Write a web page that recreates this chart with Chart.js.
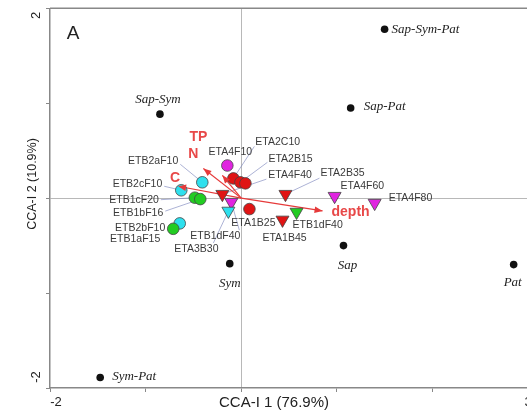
<!DOCTYPE html>
<html>
<head>
<meta charset="utf-8">
<script src="https://cdn.jsdelivr.net/npm/chart.js@4.4.1/dist/chart.umd.min.js"></script>
<style>
  html, body { margin: 0; padding: 0; background: #fff; overflow: hidden; width: 527px; height: 414px; }
  canvas { display: block; }
</style>
</head>
<body>
<canvas id="c" width="540" height="414"></canvas>
<script>
// species groups (black dots)
const speciesNames = ['Sap-Sym-Pat', 'Sap-Sym', 'Sap-Pat', 'Sap', 'Sym', 'Pat', 'Sym-Pat'];
const speciesX = [1.50, -0.85, 1.145, 1.07, -0.12, 2.85, -1.475];
const speciesY = [1.78, 0.885, 0.95, -0.50, -0.69, -0.70, -1.89];

// samples
const sampleNames = ['ETA4F10', 'ETA2C10', 'ETA2B15', '', 'ETA1B25', 'ETA4F40', 'ETB1dF40', 'ETA3B30',
  'ETA2B35', 'ETA4F60', 'ETA4F80', 'ETB1dF40', 'ETA1B45', 'ETB2aF10', 'ETB2cF10', 'ETB1cF20',
  'ETB1bF16', 'ETB2bF10', 'ETB1aF15'];
const sampleX = [-0.145, -0.082, -0.008, 0.044, 0.086, -0.197, -0.103, -0.134,
  0.463, 0.977, 1.396, 0.579, 0.432, -0.407, -0.627, -0.485,
  -0.428, -0.643, -0.711];
const sampleY = [0.344, 0.208, 0.167, 0.156, -0.115, 0.042, -0.042, -0.135,
  0.042, 0.021, -0.052, -0.146, -0.229, 0.167, 0.083, 0.005,
  -0.010, -0.266, -0.323];
const sampleGroup = ['magenta', 'red', 'red', 'red', 'red', 'red', 'magenta', 'cyan',
  'red', 'magenta', 'magenta', 'green', 'red', 'cyan', 'cyan', 'green',
  'green', 'cyan', 'green'];
const sampleShape = ['circle', 'circle', 'circle', 'circle', 'circle', 'triangle', 'triangle', 'triangle',
  'triangle', 'triangle', 'triangle', 'triangle', 'triangle', 'circle', 'circle', 'circle',
  'circle', 'circle', 'circle'];

// environmental vectors
const envNames = ['TP', 'N', 'C', 'depth'];
const envX = [-0.396, -0.197, -0.66, 0.851];
const envY = [0.3125, 0.24, 0.125, -0.135];

// axis tick labels
const xTickLabels = ['-2', '3'];
const yTickLabels = ['2', '-2'];

// ---- layout / style (pixel offsets of labels) ----
const groupColor = { red: '#e01414', magenta: '#e024e0', cyan: '#2ee0ee', green: '#22cc22' };
// [dx, dy, align, leader start offset or null]
const sampleLabelPos = [
  [3, -13, 'center', null],
  [22, -36, 'left', [21, -32]],
  [28, -23, 'left', [27, -20]],
  null,
  [4, 14, 'center', null],
  [46, -19, 'left', [44, -15]],
  [-16, 34, 'center', [8, 28]],
  [-32, 38, 'center', [-15, 32]],
  [35, -21, 'left', [34, -16]],
  [6, -10, 'left', null],
  [14, -5, 'left', null],
  [-4, 13, 'left', null],
  [2, 18, 'center', null],
  [-24, -21, 'right', [-22, -18]],
  [-19, -6, 'right', [-17, -4]],
  [-36, 2.5, 'right', [-34, 2]],
  [-37, 14, 'right', [-35, 12]],
  [-14.5, 4.5, 'right', null],
  [-13, 10, 'right', null]
];
const speciesLabelPos = [
  [7, 0, 'left'], [-2, -15, 'center'], [13, -1, 'left'], [4, 20, 'center'],
  [0, 20, 'center'], [-1, 18, 'center'], [12, -1, 'left']
];
const envLabelPos = [[-5, -31], [-29, -21], [-3, -8], [28, 1]];

const RED = '#e63a3a';

const overlay = {
  id: 'overlay',
  beforeDatasetsDraw(chart) {
    const ctx = chart.ctx;
    const meta = chart.getDatasetMeta(1);
    ctx.save();
    ctx.strokeStyle = 'rgba(115,125,185,0.75)';
    ctx.lineWidth = 0.8;
    sampleLabelPos.forEach((lp, i) => {
      if (!lp || !lp[3]) return;
      const p = meta.data[i];
      ctx.beginPath();
      ctx.moveTo(p.x + lp[3][0], p.y + lp[3][1]);
      ctx.lineTo(p.x, p.y);
      ctx.stroke();
    });
    ctx.restore();
  },
  afterDatasetsDraw(chart) {
    const ctx = chart.ctx, a = chart.chartArea;
    const xs = chart.scales.x, ys = chart.scales.y;
    ctx.save();

    // top frame line
    ctx.strokeStyle = '#888';
    ctx.lineWidth = 1.5;
    ctx.beginPath();
    ctx.moveTo(a.left, a.top);
    ctx.lineTo(a.right + 20, a.top);
    ctx.stroke();

    // arrowheads
    envNames.forEach((n, i) => {
      const m = chart.getDatasetMeta(2 + i);
      const p0 = m.data[0], p1 = m.data[1];
      const ang = Math.atan2(p1.y - p0.y, p1.x - p0.x);
      const L = 8, W = 3.2;
      ctx.fillStyle = RED;
      ctx.beginPath();
      ctx.moveTo(p1.x, p1.y);
      ctx.lineTo(p1.x - L * Math.cos(ang) + W * Math.sin(ang), p1.y - L * Math.sin(ang) - W * Math.cos(ang));
      ctx.lineTo(p1.x - L * Math.cos(ang) - W * Math.sin(ang), p1.y - L * Math.sin(ang) + W * Math.cos(ang));
      ctx.closePath();
      ctx.fill();
      ctx.font = 'bold 14px "Liberation Sans", Arial, sans-serif';
      ctx.textAlign = 'center';
      ctx.textBaseline = 'middle';
      ctx.fillStyle = '#e84848';
      ctx.fillText(n, p1.x + envLabelPos[i][0], p1.y + envLabelPos[i][1]);
    });

    // sample labels
    const sm = chart.getDatasetMeta(1);
    ctx.font = '10.5px "Liberation Sans", Arial, sans-serif';
    ctx.fillStyle = '#3a3a3a';
    ctx.textBaseline = 'middle';
    sampleNames.forEach((n, i) => {
      const lp = sampleLabelPos[i];
      if (!lp || !n) return;
      const p = sm.data[i];
      ctx.textAlign = lp[2];
      ctx.fillText(n, p.x + lp[0], p.y + lp[1]);
    });

    // species labels
    const spm = chart.getDatasetMeta(0);
    ctx.font = 'italic 13px "Liberation Serif", "Times New Roman", serif';
    ctx.fillStyle = '#222';
    speciesNames.forEach((n, i) => {
      const p = spm.data[i], lp = speciesLabelPos[i];
      ctx.textAlign = lp[2];
      ctx.fillText(n, p.x + lp[0], p.y + lp[1]);
    });

    // panel letter
    ctx.font = '19px "Liberation Sans", Arial, sans-serif';
    ctx.fillStyle = '#222';
    ctx.textAlign = 'center';
    ctx.fillText('A', 73, 34);

    // tick labels
    ctx.font = '13px "Liberation Sans", Arial, sans-serif';
    ctx.fillText(xTickLabels[0], xs.getPixelForValue(-2) + 6, a.bottom + 14);
    ctx.fillText(xTickLabels[1], xs.getPixelForValue(3), a.bottom + 14);
    [[2, 7], [-2, -11]].forEach(([v, off], i) => {
      ctx.save();
      ctx.translate(a.left - 14, ys.getPixelForValue(v) + off);
      ctx.rotate(-Math.PI / 2);
      ctx.fillText(yTickLabels[i], 0, 0);
      ctx.restore();
    });

    // axis titles
    ctx.font = '15px "Liberation Sans", Arial, sans-serif';
    ctx.fillText('CCA-I 1 (76.9%)', 274, a.bottom + 15);
    ctx.save();
    ctx.font = '12.5px "Liberation Sans", Arial, sans-serif';
    ctx.translate(33, 184);
    ctx.rotate(-Math.PI / 2);
    ctx.fillText('CCA-I 2 (10.9%)', 0, 0);
    ctx.restore();

    ctx.restore();
  }
};

const datasets = [
  {
    data: speciesX.map((x, i) => ({ x, y: speciesY[i] })),
    backgroundColor: '#111', borderColor: '#111', pointRadius: 3.8, borderWidth: 0, order: 0
  },
  {
    data: sampleX.map((x, i) => ({ x, y: sampleY[i] })),
    backgroundColor: sampleGroup.map(g => groupColor[g]),
    borderColor: '#444', borderWidth: 0.8,
    pointStyle: sampleShape,
    rotation: sampleShape.map(s => s === 'triangle' ? 180 : 0),
    pointRadius: sampleShape.map(s => s === 'triangle' ? 7.5 : 5.8),
    order: 1
  }
].concat(envNames.map((n, i) => ({
  data: [{ x: 0, y: 0 }, { x: envX[i], y: envY[i] }],
  showLine: true, borderColor: RED, borderWidth: 1.2, pointRadius: 0, order: 2
})));

new Chart(document.getElementById('c'), {
  type: 'scatter',
  data: { datasets },
  options: {
    responsive: false,
    animation: false,
    layout: { padding: { top: 6, right: 12, left: 0, bottom: 0 } },
    plugins: { legend: { display: false }, tooltip: { enabled: false } },
    scales: {
      x: {
        min: -2, max: 3,
        ticks: { stepSize: 1, display: false },
        grid: {
          color: c => c.tick && c.tick.value === 0 ? '#b8b8b8' : 'transparent',
          lineWidth: 1, tickColor: '#888', tickLength: 4
        },
        border: { display: true, color: '#888', width: 1.5 },
        afterFit: s => { s.height = 26; }
      },
      y: {
        min: -2, max: 2,
        ticks: { stepSize: 1, display: false },
        grid: {
          color: c => c.tick && c.tick.value === 0 ? '#b8b8b8' : 'transparent',
          lineWidth: 1, tickColor: '#888', tickLength: 4
        },
        border: { display: true, color: '#888', width: 1.5 },
        afterFit: s => { s.width = 50; }
      }
    }
  },
  plugins: [overlay]
});
</script>
</body>
</html>
